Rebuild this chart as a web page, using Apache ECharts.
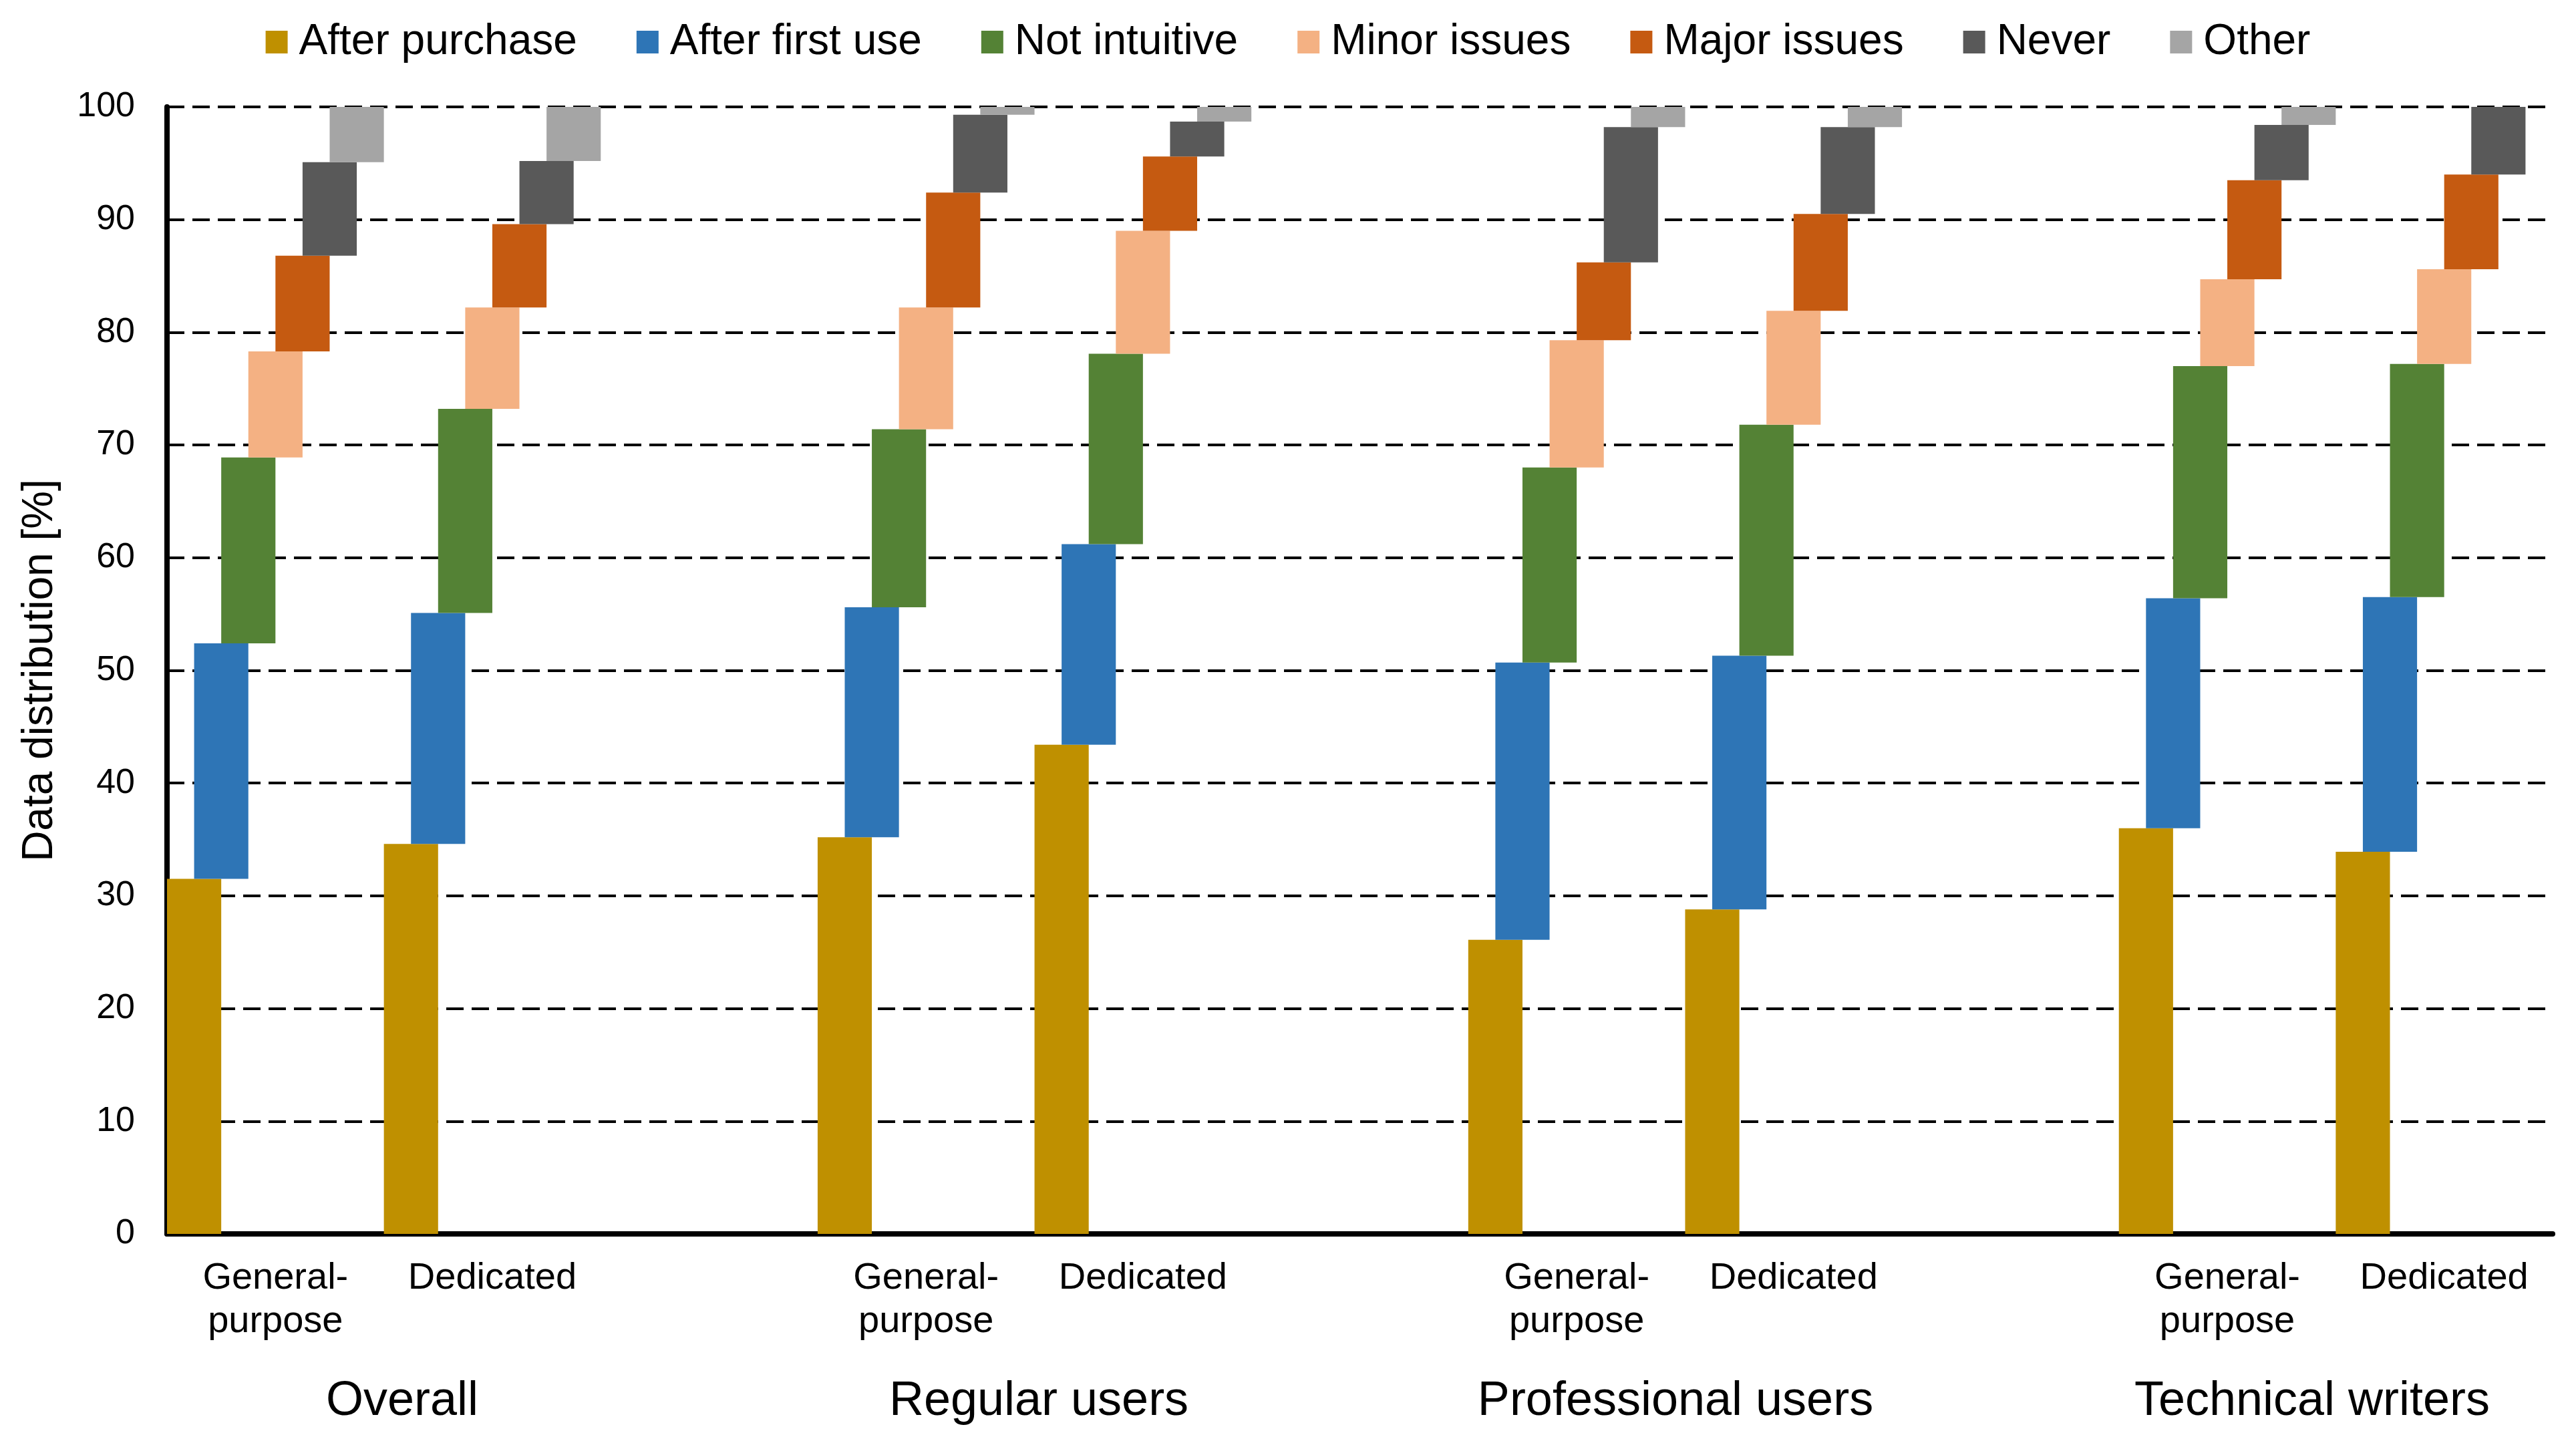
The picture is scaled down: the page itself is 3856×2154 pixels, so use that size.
<!DOCTYPE html>
<html><head><meta charset="utf-8">
<script src="https://cdn.jsdelivr.net/npm/echarts@6/dist/echarts.min.js"></script>
<style>html,body{margin:0;padding:0;background:#fff;}#c{width:3856px;height:2154px;}</style>
</head><body><div id="c"></div>
<script>
const groups = ['Overall', 'Regular users', 'Professional users', 'Technical writers'];
const toolTypes = ['General-\npurpose', 'Dedicated'];
const seriesNames = ['After purchase', 'After first use', 'Not intuitive', 'Minor issues', 'Major issues', 'Never', 'Other'];
// order of bars: Overall GP, Overall Ded, Regular GP, Regular Ded, Professional GP, Professional Ded, Technical GP, Technical Ded
const afterPurchase = [31.5, 34.6, 35.2, 43.4, 26.1, 28.8, 36.0, 33.9];
const afterFirstUse = [20.9, 20.5, 20.4, 17.8, 24.6, 22.5, 20.4, 22.6];
const notIntuitive  = [16.5, 18.1, 15.8, 16.9, 17.3, 20.5, 20.6, 20.7];
const minorIssues   = [9.4, 9.0, 10.8, 10.9, 11.3, 10.1, 7.7, 8.4];
const majorIssues   = [8.5, 7.4, 10.2, 6.6, 6.9, 8.6, 8.8, 8.4];
const never         = [8.3, 5.6, 6.9, 3.1, 12.0, 7.7, 4.9, 6.0];
const other         = [4.9, 4.8, 0.7, 1.3, 1.8, 1.8, 1.6, 0.0];
const colors = ['#BF9000', '#2E75B6', '#548235', '#F4B183', '#C55A11', '#595959', '#A5A5A5'];

const segs = [afterPurchase, afterFirstUse, notIntuitive, minorIssues, majorIssues, never, other];
const FONT = '"Liberation Sans", Arial, sans-serif';

// categories with spacer slots between groups
const cats = [];
const barSlot = [];
groups.forEach((g, gi) => {
  toolTypes.forEach((t, ti) => { barSlot.push(cats.length); cats.push('c' + gi + '_' + ti); });
  if (gi < groups.length - 1) cats.push('gap' + gi);
});
const catLabel = {};
groups.forEach((g, gi) => toolTypes.forEach((t, ti) => { catLabel['c' + gi + '_' + ti] = t; }));

const series = [];
segs.forEach((vals, s) => {
  const base = cats.map(() => '-');
  const val = cats.map(() => '-');
  vals.forEach((v, b) => {
    let cum = 0;
    for (let k = 0; k < s; k++) cum += segs[k][b];
    base[barSlot[b]] = +cum.toFixed(2);
    val[barSlot[b]] = v;
  });
  series.push({
    type: 'bar', name: '_base' + s, stack: 'st' + s, data: base, silent: true,
    itemStyle: { color: 'rgba(0,0,0,0)' }, barGap: '-50%', barCategoryGap: 0
  });
  series.push({
    type: 'bar', name: seriesNames[s], stack: 'st' + s, data: val,
    itemStyle: { color: colors[s] }, barGap: '-50%', barCategoryGap: 0
  });
});

const chart = echarts.init(document.getElementById('c'), null, { renderer: 'canvas' });
chart.setOption({
  animation: false,
  backgroundColor: '#fff',
  textStyle: { fontFamily: FONT, color: '#000' },
  legend: {
    data: seriesNames, left: 'center', top: 26, icon: 'rect',
    itemWidth: 33, itemHeight: 34, itemGap: 89,
    textStyle: { fontSize: 64, color: '#000', fontFamily: FONT, padding: [0, 0, 0, 12] }
  },
  grid: [
    { left: 250, right: 35, top: 160, bottom: 307, containLabel: false },
    { left: 602, right: 395, top: 160, bottom: 307, containLabel: false }
  ],
  xAxis: [
    {
      type: 'category', gridIndex: 0, data: cats,
      axisLine: { show: true, lineStyle: { color: '#000', width: 8 } },
      axisTick: { show: false },
      axisLabel: {
        interval: 0, margin: 34, fontSize: 56, lineHeight: 65, color: '#000', fontFamily: FONT,
        formatter: v => catLabel[v] || ''
      },
      splitLine: { show: false }
    },
    {
      type: 'category', gridIndex: 1, data: groups, boundaryGap: false,
      axisLine: { show: false }, axisTick: { show: false },
      axisLabel: { interval: 0, margin: 215, fontSize: 72, color: '#000', fontFamily: FONT },
      splitLine: { show: false }
    }
  ],
  yAxis: [
    {
      type: 'value', gridIndex: 0, min: 0, max: 100, interval: 10,
      name: 'Data distribution [%]', nameLocation: 'middle', nameGap: 158, nameRotate: 90,
      nameTextStyle: { fontSize: 64, color: '#000', fontFamily: FONT },
      axisLine: { show: true, lineStyle: { color: '#000', width: 8 } },
      axisTick: { show: false },
      axisLabel: { margin: 48, fontSize: 52, color: '#000', fontFamily: FONT },
      splitLine: { show: true, lineStyle: { color: '#000', width: 4, type: [26, 12] } }
    },
    {
      type: 'value', gridIndex: 1, min: 0, max: 1, show: false,
      splitLine: { show: false }
    }
  ],
  series: series
});
</script></body></html>
